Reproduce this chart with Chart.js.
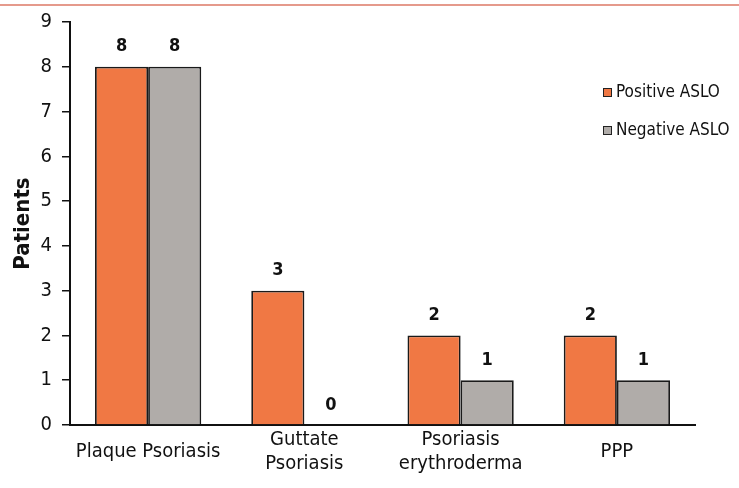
<!DOCTYPE html>
<html>
<head>
<meta charset="utf-8">
<script src="https://cdn.jsdelivr.net/npm/chart.js@4/dist/chart.umd.min.js"></script>
<style>
  html, body { margin: 0; padding: 0; background: #fff; }
  #wrap { width: 739px; height: 488px; position: relative; }
</style>
</head>
<body>
<div id="wrap"><canvas id="chart"></canvas></div>
<script>
const categories = ["Plaque Psoriasis", ["Guttate", "Psoriasis"], ["Psoriasis", "erythroderma"], "PPP"];
const positiveASLO = [8, 3, 2, 2];
const negativeASLO = [8, 0, 1, 1];
const yTicks = [0, 1, 2, 3, 4, 5, 6, 7, 8, 9];

const FONT = "'DejaVu Sans Condensed', 'DejaVu Sans', sans-serif";
const ORANGE = "#f07844";
const GRAY = "#b0aca9";

// value labels above each bar + legend inside the plot
const extras = {
  id: "extras",
  afterDraw(chart) {
    const ctx = chart.ctx;
    ctx.save();
    // thin rule at the very top
    ctx.fillStyle = "#e59a8c";
    ctx.fillRect(0, 4, chart.width, 2);

    ctx.fillStyle = "#111";
    ctx.font = "bold 18px " + FONT;
    ctx.textAlign = "center";
    ctx.textBaseline = "middle";
    chart.data.datasets.forEach((ds, i) => {
      chart.getDatasetMeta(i).data.forEach((bar, j) => {
        ctx.fillText(String(ds.data[j]), bar.x, bar.y - 20);
      });
    });

    ctx.font = "17px " + FONT;
    ctx.textAlign = "left";
    chart.data.datasets.forEach((ds, i) => {
      const y = 92 + i * 38;
      ctx.fillStyle = ds.backgroundColor;
      ctx.fillRect(603, y - 4, 9, 9);
      ctx.strokeStyle = "#222";
      ctx.lineWidth = 1;
      ctx.strokeRect(603.5, y - 3.5, 8, 8);
      ctx.fillStyle = "#111";
      ctx.fillText(ds.label, 616, y + 1);
    });
    ctx.restore();
  }
};

new Chart(document.getElementById("chart"), {
  type: "bar",
  data: {
    labels: categories,
    datasets: [
      { label: "Positive ASLO", data: positiveASLO, backgroundColor: ORANGE, borderColor: "#1a1a1a", borderWidth: 1.8 },
      { label: "Negative ASLO", data: negativeASLO, backgroundColor: GRAY, borderColor: "#1a1a1a", borderWidth: 1.8 }
    ]
  },
  options: {
    responsive: true,
    maintainAspectRatio: false,
    animation: false,
    layout: { padding: { top: 21, right: 44, left: 0, bottom: 0 } },
    datasets: { bar: { categoryPercentage: 0.68, barPercentage: 1.0 } },
    plugins: { legend: { display: false }, tooltip: { enabled: false } },
    scales: {
      x: {
        grid: { display: false },
        border: { color: "#111", width: 2 },
        ticks: { color: "#111", font: { family: FONT, size: 20, lineHeight: 1.2 }, padding: 7, maxRotation: 0, crossAlign: "center" },
        afterFit(scale) { scale.height = 63; }
      },
      y: {
        min: 0,
        max: 9,
        afterBuildTicks(scale) { scale.ticks = yTicks.map(v => ({ value: v })); },
        grid: { drawOnChartArea: false, tickLength: 8, color: "#111", lineWidth: 1.5 },
        border: { color: "#111", width: 2 },
        ticks: { color: "#111", font: { family: FONT, size: 20 }, padding: 10 },
        title: { display: true, text: "Patients", color: "#111", font: { family: FONT, size: 22, weight: "bold" }, padding: { top: 10, bottom: 0 } },
        afterFit(scale) { scale.width = 70; }
      }
    }
  },
  plugins: [extras]
});
</script>
</body>
</html>
